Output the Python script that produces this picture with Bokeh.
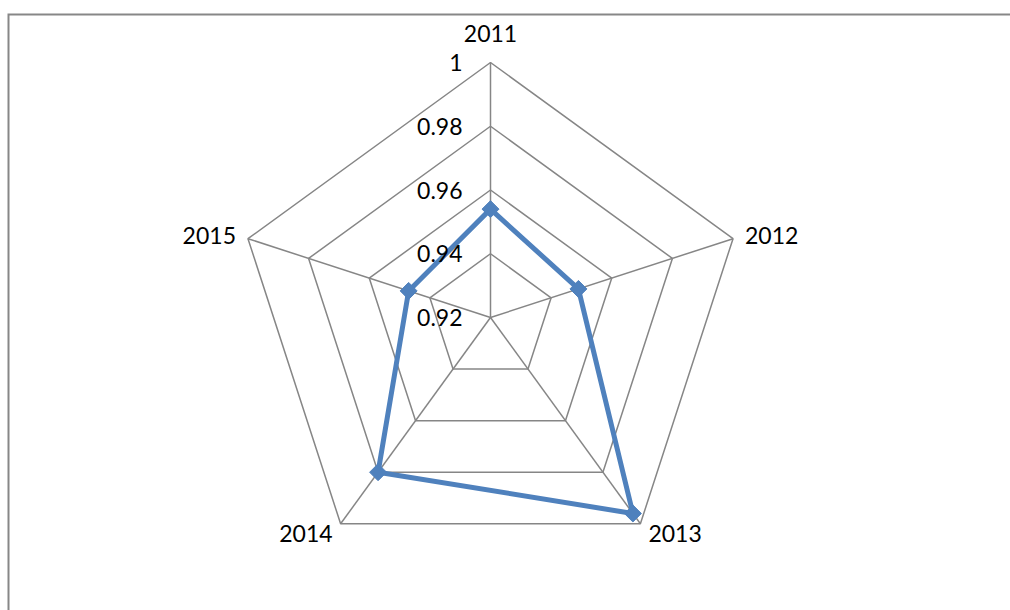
import numpy as np
from bokeh.plotting import figure
from bokeh.models import Range1d, ColumnDataSource
from bokeh.core.properties import value
from bokeh.embed import file_html
from bokeh.resources import INLINE

# ---- data ----
categories = ["2011", "2012", "2013", "2014", "2015"]
values = [0.954, 0.949, 0.996, 0.980, 0.947]
ticks = [0.92, 0.94, 0.96, 0.98, 1.0]
tick_labels = ["0.92", "0.94", "0.96", "0.98", "1"]
r_min, r_max = 0.92, 1.0

# ---- layout (pixels) ----
W, H = 1010, 610
CX, CY = 490, 317          # centre of the radar in screen pixels
R = 255                    # outer radius in pixels
FONT = value("Lato")
GRID = "#868686"
BLUE = "#4F81BD"

n = len(categories)
theta = np.pi / 2 - np.arange(n) * 2 * np.pi / n


def radius(v):
    return (np.asarray(v) - r_min) / (r_max - r_min) * R


p = figure(width=W, height=H, output_backend="svg", toolbar_location=None,
           x_range=Range1d(-CX, W - CX), y_range=Range1d(-(H - CY), CY),
           x_axis_location=None, y_axis_location=None, min_border=0)
p.grid.visible = False
p.outline_line_color = None
p.background_fill_color = "white"
p.border_fill_color = "white"

# chart-area frame (only left and top edges fall inside the picture)
fl, ft = -CX + 8, CY - 14
p.line([fl, fl, W - CX + 3], [-(H - CY) - 3, ft, ft], line_color="#878787", line_width=2,
       line_join="miter")

# rings
ring_xs, ring_ys = [], []
for t in ticks[1:]:
    rr = radius(t)
    xs = list(rr * np.cos(theta)) + [rr * np.cos(theta[0])]
    ys = list(rr * np.sin(theta)) + [rr * np.sin(theta[0])]
    ring_xs.append(xs)
    ring_ys.append(ys)
p.multi_line(ring_xs, ring_ys, line_color=GRID, line_width=1.5)

# spokes
rmax = radius(r_max)
p.multi_line([[0, rmax * np.cos(a)] for a in theta], [[0, rmax * np.sin(a)] for a in theta],
             line_color=GRID, line_width=1.5)

# series
rv = radius(values)
sx = rv * np.cos(theta)
sy = rv * np.sin(theta)
p.line(list(sx) + [sx[0]], list(sy) + [sy[0]], line_color=BLUE, line_width=5, line_join="round")
p.scatter(sx, sy, marker="square", angle=np.pi / 4, size=12, fill_color=BLUE, line_color=BLUE)

# tick labels
tsrc = ColumnDataSource(dict(x=[0] * len(ticks), y=list(radius(ticks)), text=tick_labels))
p.text(x="x", y="y", text="text", source=tsrc, x_offset=-28, text_align="right",
       text_baseline="middle", text_font=FONT, text_font_size="23px", text_color="black")

# category labels
csrc = ColumnDataSource(dict(
    x=list(rmax * np.cos(theta)), y=list(rmax * np.sin(theta)), text=categories,
    xo=[0, 12, 8, -8, -12], yo=[-29, -3, 10, 10, -3],
    al=["center", "left", "left", "right", "right"]))
p.text(x="x", y="y", text="text", source=csrc, x_offset="xo", y_offset="yo",
       text_align="al", text_baseline="middle", text_font=FONT, text_font_size="23px",
       text_color="black")

open("out.html", "w").write(file_html(p, INLINE))
